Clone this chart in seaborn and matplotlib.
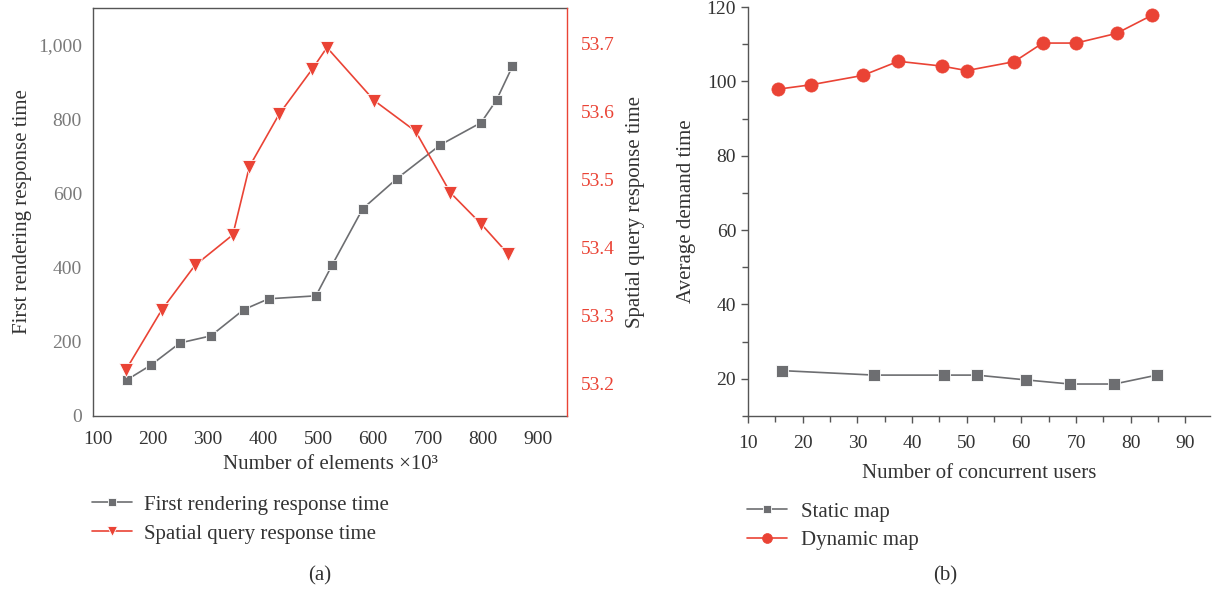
import matplotlib
matplotlib.use("Agg")
import matplotlib.pyplot as plt
import matplotlib.ticker as mticker
import seaborn as sns
import pandas as pd

# ---------------- data ----------------
# Panel (a)
render_x = [152, 196, 249, 305, 365, 410, 496, 525, 581, 643, 722, 796, 824, 853]
render_y = [97, 137, 197, 216, 287, 316, 324, 406, 559, 640, 731, 791, 852, 943]
query_x = [151, 216, 276, 345, 375, 429, 489, 516, 602, 677, 740, 796, 845]
query_y = [53.221, 53.309, 53.374, 53.419, 53.519, 53.596, 53.662, 53.694,
           53.616, 53.571, 53.481, 53.435, 53.391]

# Panel (b)
static_x = [16.3, 33.1, 45.8, 51.8, 60.9, 68.9, 77.0, 84.8]
static_y = [22.2, 21.0, 21.0, 21.0, 19.7, 18.6, 18.6, 21.0]
dynamic_x = [15.5, 21.6, 31.0, 37.5, 45.5, 50.0, 58.7, 63.9, 70.0, 77.4, 83.9]
dynamic_y = [97.9, 99.1, 101.6, 105.4, 104.1, 102.9, 105.3, 110.3, 110.3, 112.9, 117.8]

left_yticks = [0, 200, 400, 600, 800, 1000]
right_yticks = [53.2, 53.3, 53.4, 53.5, 53.6, 53.7]
a_xticks = [100, 200, 300, 400, 500, 600, 700, 800, 900]
b_xticks = [10, 20, 30, 40, 50, 60, 70, 80, 90]
b_yticks = [20, 40, 60, 80, 100, 120]

# ---------------- style ----------------
sns.set_style("white")
plt.rcParams["font.family"] = ["Liberation Serif", "DejaVu Serif"]
plt.rcParams["font.size"] = 14

GRAY = "#6d6e71"
RED = "#ea4335"
TXT = "#333333"
SPINE = "#555555"

W, H = 1212, 592
fig = plt.figure(figsize=(W / 100, H / 100), dpi=100)

def rect(x0, y0, x1, y1):
    return [x0 / W, 1 - y1 / H, (x1 - x0) / W, (y1 - y0) / H]

# ---------------- panel (a) ----------------
ax1 = fig.add_axes(rect(93, 8, 567, 416))
ax2 = ax1.twinx()

df_r = pd.DataFrame({"x": render_x, "y": render_y})
df_q = pd.DataFrame({"x": query_x, "y": query_y})

sns.lineplot(data=df_r, x="x", y="y", ax=ax1, color=GRAY, marker="s",
             markersize=7.5, markeredgecolor="white", markeredgewidth=0.6,
             linewidth=1.2, sort=False, label="First rendering response time",
             legend=False)
sns.lineplot(data=df_q, x="x", y="y", ax=ax2, color=RED, marker="v",
             markersize=9.5, markeredgecolor="white", markeredgewidth=0.6,
             linewidth=1.2, sort=False, label="Spatial query response time",
             legend=False)

ax1.set_xlim(91, 952)
ax1.set_ylim(0, 1100)
ax2.set_ylim(53.153, 53.752)
ax1.set_xticks(a_xticks)
ax1.set_yticks(left_yticks)
ax2.set_yticks(right_yticks)
ax1.yaxis.set_major_formatter(mticker.StrMethodFormatter("{x:,.0f}"))
ax2.yaxis.set_major_formatter(mticker.StrMethodFormatter("{x:.1f}"))

ax1.tick_params(axis="both", length=0, labelsize=14)
ax1.tick_params(axis="y", colors="#7a7a7a", pad=8)
ax1.tick_params(axis="x", colors=TXT, pad=11)
ax2.tick_params(axis="y", length=0, labelsize=14, colors=RED, pad=10)

for s in ["left", "bottom", "top"]:
    ax1.spines[s].set_color(SPINE)
    ax1.spines[s].set_linewidth(1.0)
ax1.spines["right"].set_visible(False)
for s in ["left", "bottom", "top"]:
    ax2.spines[s].set_visible(False)
ax2.spines["right"].set_color(RED)
ax2.spines["right"].set_linewidth(1.0)

ax1.set_xlabel("Number of elements ×10³", fontsize=15, color=TXT, labelpad=5)
ax1.set_ylabel("First rendering response time", fontsize=15, color=TXT, labelpad=4)
ax2.set_ylabel("Spatial query response time", fontsize=15, color=TXT, labelpad=8)

h1, l1 = ax1.get_legend_handles_labels()
h2, l2 = ax2.get_legend_handles_labels()
fig.legend(h1 + h2, l1 + l2, loc="upper left", bbox_to_anchor=(92 / W, 1 - 495 / H),
           frameon=False, fontsize=15, handlelength=1.9, handletextpad=0.6,
           labelspacing=0.45, borderpad=0, borderaxespad=0, labelcolor=TXT,
           markerscale=0.75)

fig.text(320 / W, 1 - 576 / H, "(a)", ha="center", va="center", fontsize=15, color=TXT)

# ---------------- panel (b) ----------------
ax3 = fig.add_axes(rect(748, 7, 1210, 416))
df_s = pd.DataFrame({"x": static_x, "y": static_y})
df_d = pd.DataFrame({"x": dynamic_x, "y": dynamic_y})
sns.lineplot(data=df_s, x="x", y="y", ax=ax3, color=GRAY, marker="s",
             markersize=8, markeredgecolor="white", markeredgewidth=0.6,
             linewidth=1.2, sort=False, label="Static map", legend=False)
sns.lineplot(data=df_d, x="x", y="y", ax=ax3, color=RED, marker="o",
             markersize=9.5, markeredgecolor=RED, markeredgewidth=0.5,
             linewidth=1.2, sort=False, label="Dynamic map", legend=False)

ax3.set_xlim(10, 94.5)
ax3.set_ylim(10, 120)
ax3.set_xticks(b_xticks)
ax3.set_yticks(b_yticks)
ax3.xaxis.set_minor_locator(mticker.MultipleLocator(5))
ax3.yaxis.set_minor_locator(mticker.MultipleLocator(10))
ax3.tick_params(axis="both", which="major", direction="out", length=5, width=1,
                colors=SPINE, labelcolor=TXT, labelsize=14, bottom=True, left=True)
ax3.tick_params(axis="x", which="major", pad=9)
ax3.tick_params(axis="both", which="minor", direction="out", length=4, width=1,
                colors=SPINE, bottom=True, left=True)
ax3.spines["top"].set_visible(False)
ax3.spines["right"].set_visible(False)
for s in ["left", "bottom"]:
    ax3.spines[s].set_color(SPINE)
    ax3.spines[s].set_linewidth(1.0)

ax3.set_xlabel("Number of concurrent users", fontsize=15, color=TXT, labelpad=8)
ax3.set_ylabel("Average demand time", fontsize=15, color=TXT, labelpad=8)

h3, l3 = ax3.get_legend_handles_labels()
fig.legend(h3, l3, loc="upper left", bbox_to_anchor=(747 / W, 1 - 502 / H),
           frameon=False, fontsize=15, handlelength=1.9, handletextpad=0.7,
           labelspacing=0.42, borderpad=0, borderaxespad=0, labelcolor=TXT,
           markerscale=0.75)

fig.text(945 / W, 1 - 576 / H, "(b)", ha="center", va="center", fontsize=15, color=TXT)

fig.savefig("out.png", dpi=100)
